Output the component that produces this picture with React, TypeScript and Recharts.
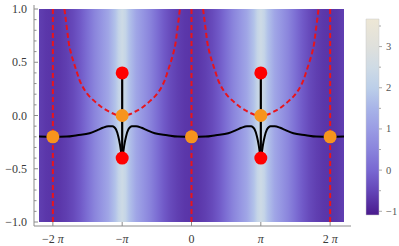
import React from 'react';
import { ComposedChart, Line, Scatter, XAxis, YAxis, ReferenceArea } from 'recharts';

// x values are in units of π
const X_MIN = -2.2;
const X_MAX = 2.2;

const xTicks = [-2, -1, 0, 1, 2];
const xTickLabels = ['−2 π', '−π', '0', 'π', '2 π'];
const yTicks = [-1, -0.9, -0.8, -0.7, -0.6, -0.5, -0.4, -0.3, -0.2, -0.1, 0, 0.1, 0.2, 0.3, 0.4, 0.5, 0.6, 0.7, 0.8, 0.9, 1];
const yMajor = [-1, -0.5, 0, 0.5, 1];

// density band, sampled along x (it does not change with y)
const densX = [-2.2, -2.1, -2.0, -1.9, -1.8, -1.7, -1.6, -1.5, -1.4, -1.3, -1.2, -1.1, -1.05, -1.0, -0.95,
  -0.9, -0.8, -0.7, -0.6, -0.5, -0.4, -0.3, -0.2, -0.1, 0, 0.1, 0.2, 0.3, 0.4, 0.5, 0.6, 0.7, 0.8, 0.9,
  0.95, 1.0, 1.05, 1.1, 1.2, 1.3, 1.4, 1.5, 1.6, 1.7, 1.8, 1.9, 2.0, 2.1, 2.2];
const densV = [-0.6, -0.7, -0.74, -0.7, -0.6, -0.44, -0.2, 0.12, 0.5, 0.85, 1.2, 1.75, 2.2, 2.45, 2.2,
  1.75, 1.2, 0.85, 0.5, 0.12, -0.2, -0.44, -0.6, -0.7, -0.74, -0.7, -0.6, -0.44, -0.2, 0.12, 0.5, 0.85, 1.2, 1.75,
  2.2, 2.45, 2.2, 1.75, 1.2, 0.85, 0.5, 0.12, -0.2, -0.44, -0.6, -0.7, -0.74, -0.7, -0.6];

// legend bar
const CB_MIN = -1.09;
const CB_MAX = 3.67;
const cbValues = [-1.09, -1, -0.5, 0, 0.5, 1, 1.5, 2, 2.5, 3, 3.67];
const cbColors = ['#4a1a8c', '#4e2194', '#6446b8', '#7968d2', '#8a84dc', '#9a9ce4', '#a8b4e8', '#bccfe9', '#cfdbe5', '#dfe0dc', '#ede7d5'];
const cbTicks = [-1, -0.5, 0, 0.5, 1, 1.5, 2, 2.5, 3, 3.5];
const cbMajor = [-1, 0, 1, 2, 3];

// black curve
const curveX = [-2.2, -2.0, -1.8, -1.65, -1.47, -1.35, -1.28, -1.2, -1.14, -1.09, -1.055, -1.03, -1.012, -1.0,
  -0.988, -0.97, -0.945, -0.91, -0.86, -0.8, -0.72, -0.65, -0.53, -0.35, -0.2, 0,
  0.2, 0.35, 0.53, 0.65, 0.72, 0.8, 0.86, 0.91, 0.945, 0.97, 0.988, 1.0,
  1.012, 1.03, 1.055, 1.09, 1.14, 1.2, 1.28, 1.35, 1.47, 1.65, 1.8, 2.0, 2.2];
const curveY = [-0.198, -0.2, -0.198, -0.185, -0.167, -0.135, -0.115, -0.1, -0.1, -0.13, -0.2, -0.28, -0.36, -0.4,
  -0.36, -0.28, -0.2, -0.13, -0.1, -0.1, -0.115, -0.135, -0.167, -0.185, -0.198, -0.2,
  -0.198, -0.185, -0.167, -0.135, -0.115, -0.1, -0.1, -0.13, -0.2, -0.28, -0.36, -0.4,
  -0.36, -0.28, -0.2, -0.13, -0.1, -0.1, -0.115, -0.135, -0.167, -0.185, -0.198, -0.2, -0.198];

// red dashed U curves, offsets from their centre at ±π
const uOffset = [-0.833, -0.81, -0.79, -0.77, -0.74, -0.7, -0.66, -0.62, -0.57, -0.5, -0.4, -0.3, -0.2, -0.1, 0,
  0.1, 0.2, 0.3, 0.4, 0.5, 0.57, 0.62, 0.66, 0.7, 0.74, 0.77, 0.79, 0.81, 0.833];
const uY = [1.0, 0.88, 0.78, 0.68, 0.59, 0.5, 0.42, 0.34, 0.27, 0.2, 0.135, 0.08, 0.04, 0.01, 0,
  0.01, 0.04, 0.08, 0.135, 0.2, 0.27, 0.34, 0.42, 0.5, 0.59, 0.68, 0.78, 0.88, 1.0];
const uCentres = [-1, 1];

const dashedX = [-2, 0, 2];
const stemX = [-1, 1];
const stemY = [-0.4, 0.4];

const orangeX = [-2, -1, 0, 1, 2];
const orangeY = [-0.2, 0, -0.2, 0, -0.2];
const redX = [-1, -1, 1, 1];
const redY = [0.4, -0.4, 0.4, -0.4];

const FRAME = '#8c8c8c';
const TEXT = '#3a3a3a';
const RED = '#e8141c';
const ORANGE = '#f7941d';
const FONT = "'Liberation Serif', 'Times New Roman', Times, serif";

const hex = (c: string) => [1, 3, 5].map(i => parseInt(c.slice(i, i + 2), 16));
const colorAt = (v: number) => {
  if (v <= cbValues[0]) return cbColors[0];
  for (let i = 1; i < cbValues.length; i++) {
    if (v <= cbValues[i]) {
      const t = (v - cbValues[i - 1]) / (cbValues[i] - cbValues[i - 1]);
      const a = hex(cbColors[i - 1]);
      const b = hex(cbColors[i]);
      return `rgb(${a.map((ch, k) => Math.round(ch + (b[k] - ch) * t)).join(',')})`;
    }
  }
  return cbColors[cbColors.length - 1];
};

const curveData = curveX.map((x, i) => ({ x, y: curveY[i] }));
const uData = uCentres.map(c => uOffset.map((d, i) => ({ x: c + d, y: uY[i] })));
const dashedData = dashedX.map(x => [{ x, y: -1 }, { x, y: 1 }]);
const stemData = stemX.map(x => [{ x, y: stemY[0] }, { x, y: stemY[1] }]);
const orangeData = orangeX.map((x, i) => ({ x, y: orangeY[i] }));
const redData = redX.map((x, i) => ({ x, y: redY[i] }));
const cbData = [{ x: 0, y: CB_MIN }, { x: 1, y: CB_MAX }];

const piLabel = (s: string) => {
  const parts = s.split('π');
  if (parts.length === 1) return s;
  return (
    <>
      {parts[0]}
      <tspan fontStyle="italic">π</tspan>
    </>
  );
};

const XTick = (props: any) => {
  const { x, y, payload } = props;
  const label = xTickLabels[xTicks.indexOf(payload.value)] ?? '';
  return (
    <g>
      <line x1={x} x2={x} y1={y} y2={y - 4} stroke={FRAME} />
      <text x={x} y={y + 17} textAnchor="middle" style={{ fontSize: 12, fontFamily: FONT, fill: TEXT }}>
        {piLabel(label)}
      </text>
    </g>
  );
};

const YTick = (props: any) => {
  const { x, y, payload } = props;
  const v = payload.value;
  const major = yMajor.some(m => Math.abs(m - v) < 1e-6);
  return (
    <g>
      <line x1={x} x2={x + (major ? 4 : 2.5)} y1={y} y2={y} stroke={FRAME} />
      {major && (
        <text x={x - 7} y={y + 4} textAnchor="end" style={{ fontSize: 12, fontFamily: FONT, fill: TEXT }}>
          {v.toFixed(1).replace('-', '−')}
        </text>
      )}
    </g>
  );
};

const CbTick = (props: any) => {
  const { x, y, payload } = props;
  const v = payload.value;
  const major = cbMajor.includes(v);
  return (
    <g>
      <line x1={x} x2={x + (major ? 3 : 2)} y1={y} y2={y} stroke="#aaa" />
      {major && (
        <text x={x + 7} y={y + 3.5} textAnchor="start" style={{ fontSize: 10.5, fontFamily: FONT, fill: '#555' }}>
          {String(v).replace('-', '−')}
        </text>
      )}
    </g>
  );
};

const dot = (color: string) => (p: any) => <circle cx={p.cx} cy={p.cy} r={6.5} fill={color} />;

const App: React.FC = () => {
  return (
    <div style={{ position: 'absolute', left: 0, top: 0, width: 399, height: 246, background: '#fff' }}>
      <ComposedChart width={399} height={246} margin={{ top: 5, right: 48, bottom: 0, left: 0 }}>
        <defs>
          <linearGradient id="densGrad" x1="0" y1="0" x2="1" y2="0">
            {densX.map((x, i) => (
              <stop key={i} offset={(x - X_MIN) / (X_MAX - X_MIN)} stopColor={colorAt(densV[i])} />
            ))}
          </linearGradient>
        </defs>
        <XAxis type="number" dataKey="x" domain={[X_MIN, X_MAX]} allowDataOverflow ticks={xTicks} interval={0}
          padding={{ left: 5, right: 7 }} height={20} stroke={FRAME} tickSize={0} tickMargin={0} tickLine={false} tick={<XTick />} />
        <YAxis type="number" dataKey="y" domain={[-1, 1]} allowDataOverflow ticks={yTicks} interval={0}
          padding={{ top: 4, bottom: 4 }} width={34} stroke={FRAME} tickSize={0} tickMargin={0} tickLine={false} tick={<YTick />} />
        <YAxis yAxisId="frame" orientation="right" width={0} domain={[-1, 1]} tick={false} tickLine={false} stroke={FRAME} />
        <ReferenceArea x1={X_MIN} x2={X_MAX} y1={-1} y2={1} fill="url(#densGrad)" fillOpacity={1} stroke="none" />

        {dashedData.map((d, i) => (
          <Line key={`v${i}`} data={d} dataKey="y" type="linear" stroke={RED} strokeWidth={2} strokeDasharray="5 3"
            dot={false} activeDot={false} isAnimationActive={false} />
        ))}
        {uData.map((d, i) => (
          <Line key={`u${i}`} data={d} dataKey="y" type="monotone" stroke={RED} strokeWidth={2} strokeDasharray="5 3"
            dot={false} activeDot={false} isAnimationActive={false} />
        ))}
        {stemData.map((d, i) => (
          <Line key={`s${i}`} data={d} dataKey="y" type="linear" stroke="#000" strokeWidth={2.2}
            dot={false} activeDot={false} isAnimationActive={false} />
        ))}
        <Line data={curveData} dataKey="y" type="monotone" stroke="#000" strokeWidth={2}
          dot={false} activeDot={false} isAnimationActive={false} />
        <Scatter data={orangeData} dataKey="y" shape={dot(ORANGE)} isAnimationActive={false} />
        <Scatter data={redData} dataKey="y" shape={dot('#ff0000')} isAnimationActive={false} />
      </ComposedChart>

      <div style={{ position: 'absolute', left: 340, top: 0 }}>
        <ComposedChart width={59} height={246} data={cbData} margin={{ top: 19, right: 0, bottom: 31, left: 26 }}>
          <defs>
            <linearGradient id="cbGrad" x1="0" y1="1" x2="0" y2="0">
              {cbValues.map((v, i) => (
                <stop key={i} offset={(v - CB_MIN) / (CB_MAX - CB_MIN)} stopColor={cbColors[i]} />
              ))}
            </linearGradient>
          </defs>
          <XAxis type="number" dataKey="x" domain={[0, 1]} hide height={0} />
          <YAxis type="number" dataKey="y" orientation="right" domain={[CB_MIN, CB_MAX]} allowDataOverflow ticks={cbTicks} interval={0}
            width={20} axisLine={false} tickSize={0} tickMargin={0} tickLine={false} tick={<CbTick />} />
          <Line dataKey="y" stroke="none" dot={false} activeDot={false} isAnimationActive={false} />
          <ReferenceArea x1={0} x2={1} y1={CB_MIN} y2={CB_MAX} ifOverflow="visible" fill="url(#cbGrad)" fillOpacity={1}
            stroke="#c8c8c8" strokeWidth={0.5} />
        </ComposedChart>
      </div>
    </div>
  );
};

export default App;
